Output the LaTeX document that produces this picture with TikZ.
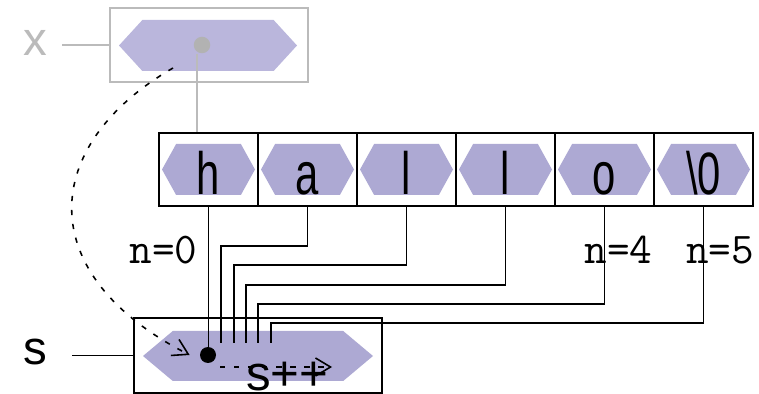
\documentclass[tikz,border=0pt]{standalone}
\usepackage{fontspec}
\setsansfont{Liberation Sans}
\newfontfamily\cellfont[FakeStretch=0.7]{Liberation Sans}
\usetikzlibrary{arrows.meta,positioning,shapes.symbols}
\definecolor{ink}{HTML}{000000}
\definecolor{cellfill}{HTML}{ADA9D3}
\definecolor{ptrfill}{HTML}{BAB6DC}
\definecolor{ghost}{HTML}{BBBBBB}
\definecolor{ghostdot}{HTML}{B2B2B2}

\begin{document}
\begin{tikzpicture}[
  hexa/.style={signal,signal to=east and west,draw=none,inner sep=0pt,
               minimum height=1.02cm},
  cellhex/.style={hexa,fill=cellfill,signal pointer angle=122,minimum width=1.86cm,
                  font=\cellfont\fontsize{34}{34}\selectfont,
                  text height=1.02cm,text depth=0pt},
  cellbox/.style={draw=ink,line width=1pt,minimum width=1.98cm,
                  minimum height=1.46cm,inner sep=0pt},
  lbl/.style={font=\sffamily\fontsize{27}{27}\selectfont,inner sep=0pt},
  countlbl/.style={font=\ttfamily\fontsize{25}{25}\selectfont,inner sep=0pt,
                   anchor=base},
  wire/.style={ink,line width=1pt},
  ghostwire/.style={ghost,line width=0.9pt},
  move/.style={ink,dash pattern=on 3pt off 5pt,line width=0.9pt,
               -{Straight Barb[length=3mm,width=3.6mm]}}
]
\useasboundingbox (0,0) rectangle (15.18,7.88);

% pointer x
\node[draw=ghost,line width=0.9pt,minimum width=3.96cm,minimum height=1.48cm]
  (xbox) at (4.18,6.98) {};
\node[hexa,fill=ptrfill,signal pointer angle=95,minimum width=3.56cm]
  (xhex) at (4.16,6.97) {};
\node[circle,fill=ghostdot,minimum size=3.3mm,inner sep=0pt] (xdot) at (4.04,6.98) {};
\node[lbl,text=ghost] (xlab) at (0.70,7.03) {x};
\draw[ghostwire,shorten <=0.3cm] (xlab.east |- xbox) -- (xbox.west);

% the string
\foreach \ch [count=\i from 0] in {h,a,l,l,o,\textbackslash 0} {
  \node[cellbox] (c\i) at (4.17+1.98*\i,4.49) {};
  \node[cellhex] (h\i) at (c\i) {\ch};
}
\draw[ghostwire] ([xshift=-1mm]xdot.south) -- ([xshift=-1mm]xdot.south |- c0.north);

% pointer s
\node[draw=ink,line width=1pt,minimum width=4.96cm,minimum height=1.50cm,
      inner sep=0pt] (sbox) at (5.16,0.77) {};
\node[hexa,fill=cellfill,signal pointer angle=80,minimum width=4.6cm,
      minimum height=1.0cm] (shex) at (5.16,0.76) {};
\node[circle,fill=ink,minimum size=3.2mm,inner sep=0pt] (sdot) at (4.16,0.78) {};
\node[lbl] (slab) at (0.70,0.83) {s};
\draw[wire,shorten <=0.5cm] (slab.east |- sbox) -- (sbox.west);

% wires from the cells
\draw[wire] (c0.south) -- (c0.south |- sdot.north);
\foreach \i/\lvl/\drop in {1/2.96/4.42,2/2.58/4.68,3/2.18/4.92,4/1.80/5.16,5/1.42/5.42}
  \draw[wire] (c\i.south) |- (\drop,\lvl) -- (\drop,1.02);

\node[countlbl] (n0) at (3.27,2.60) {n=0};
\node[countlbl] (n4) at (12.37,2.60) {n=4};
\node[countlbl] (n5) at (14.40,2.60) {n=5};

% moves
\coordinate (xtail) at (3.46,6.52);
\draw[move] (xtail) .. controls (0.795,4.98) and (0.624,2.40) .. ([xshift=-2mm]sdot.west);
\coordinate (inctail) at ([shift={(0.24,-0.24)}]sdot.center);
\draw[move] (inctail) -- ++(2.24,0);
\node[lbl,anchor=base west,font=\sffamily\fontsize{28}{28}\selectfont] (inc)
  at (4.92,0.06) {s++};
\end{tikzpicture}
\end{document}
